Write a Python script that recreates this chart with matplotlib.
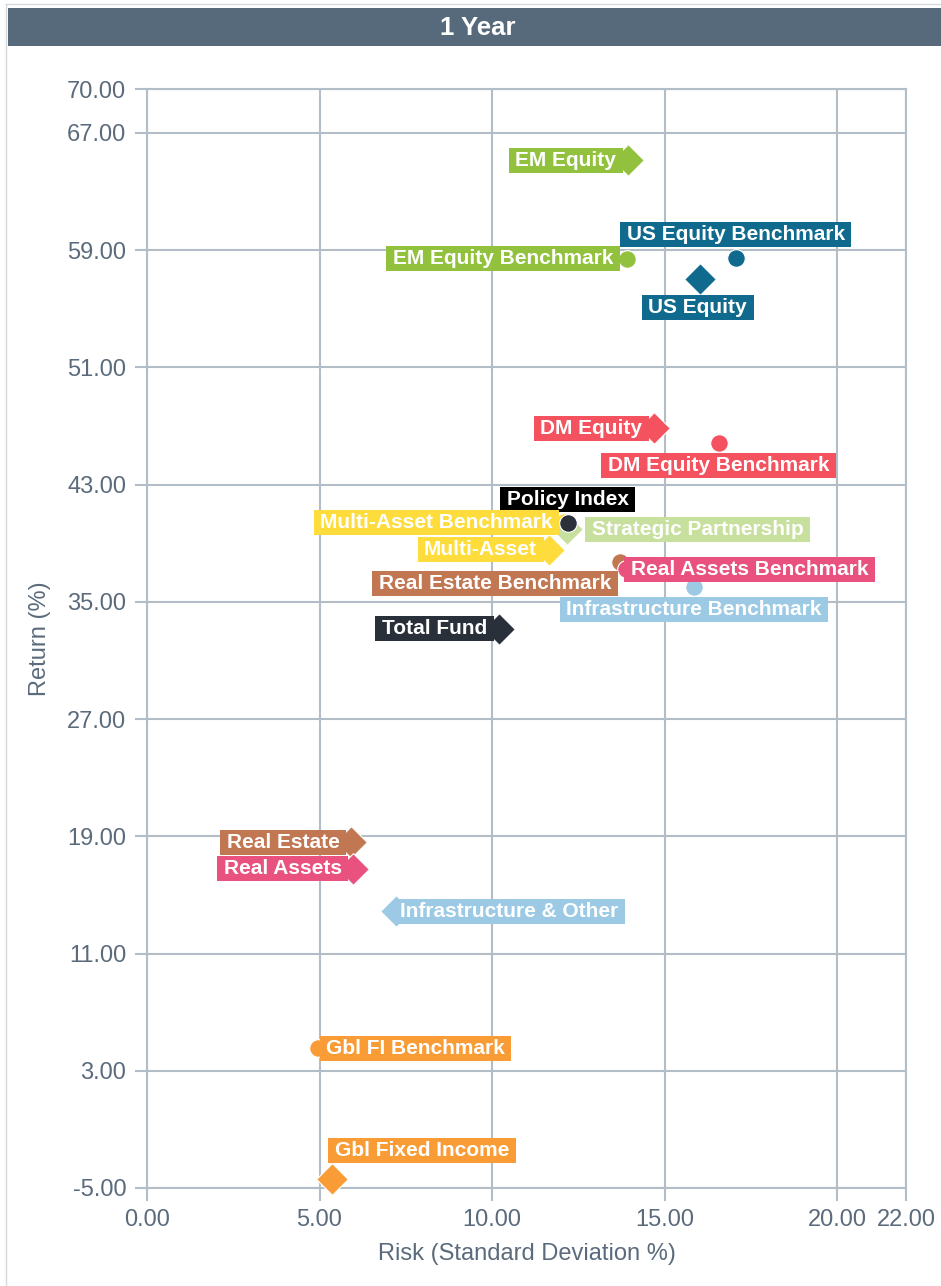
import matplotlib
matplotlib.use('Agg')
import matplotlib.pyplot as plt
from matplotlib.path import Path
from matplotlib.patches import Rectangle
from matplotlib.lines import Line2D

plt.rcParams['font.family'] = ['Liberation Sans', 'DejaVu Sans']

# Data, in draw order
names = [
    "Total Fund", "Policy Index",
    "Gbl Fixed Income", "Gbl FI Benchmark",
    "US Equity", "US Equity Benchmark",
    "DM Equity", "DM Equity Benchmark",
    "EM Equity", "EM Equity Benchmark",
    "Multi-Asset", "Multi-Asset Benchmark",
    "Strategic Partnership",
    "Real Estate", "Real Estate Benchmark",
    "Real Assets", "Real Assets Benchmark",
    "Infrastructure & Other", "Infrastructure Benchmark",
]
risk = [10.19, 12.19, 5.37, 4.96, 16.02, 17.07, 14.69, 16.57, 13.93, 13.90,
        11.64, 12.10, 12.16, 5.92, 13.70, 5.98, 13.88, 7.23, 15.85]
returns = [33.15, 40.38, -4.39, 4.55, 57.03, 58.49, 46.86, 45.84, 65.15, 58.40,
           38.54, 40.42, 39.97, 18.61, 37.72, 16.77, 37.24, 13.90, 36.01]
is_benchmark = [False, True, False, True, False, True, False, True, False, True,
                False, True, False, False, True, False, True, False, True]

x_ticks = [0, 5, 10, 15, 20, 22]
y_ticks = [-5, 3, 11, 19, 27, 35, 43, 51, 59, 67, 70]

# Styles
COLORS = {
    "Total Fund": "#29303a", "Policy Index": "#2b3039",
    "Gbl Fixed Income": "#f99c35", "Gbl FI Benchmark": "#f99c35",
    "US Equity": "#0f6a8d", "US Equity Benchmark": "#0f6a8d",
    "DM Equity": "#f4525f", "DM Equity Benchmark": "#f4525f",
    "EM Equity": "#92c13e", "EM Equity Benchmark": "#92c13e",
    "Multi-Asset": "#fddc3b", "Multi-Asset Benchmark": "#fddc3b",
    "Strategic Partnership": "#c8e09d",
    "Real Estate": "#c27753", "Real Estate Benchmark": "#c27753",
    "Real Assets": "#e9527f", "Real Assets Benchmark": "#e9527f",
    "Infrastructure & Other": "#9ccae5", "Infrastructure Benchmark": "#9ccae5",
}
BOX_COLORS = dict(COLORS)
BOX_COLORS["Policy Index"] = "#000000"

# label offset in pixels from the marker centre: (dx, dy, ha, va)
LEFT = (-11.5, 0, 'right', 'center')
LABEL_POS = {
    "Total Fund": LEFT,
    "Policy Index": (0, 14, 'center', 'bottom'),
    "Gbl Fixed Income": (2.5, 19, 'left', 'bottom'),
    "Gbl FI Benchmark": (8, 0, 'left', 'center'),
    "US Equity": (-2, -19, 'center', 'top'),
    "US Equity Benchmark": (0, 14, 'center', 'bottom'),
    "DM Equity": LEFT,
    "DM Equity Benchmark": (0, -13, 'center', 'top'),
    "EM Equity": LEFT,
    "EM Equity Benchmark": (-13.5, 0, 'right', 'center'),
    "Multi-Asset": LEFT,
    "Multi-Asset Benchmark": LEFT,
    "Strategic Partnership": (25, 0, 'left', 'center'),
    "Real Estate": LEFT,
    "Real Estate Benchmark": (-8.5, -12, 'right', 'top'),
    "Real Assets": LEFT,
    "Real Assets Benchmark": (5, 0, 'left', 'center'),
    "Infrastructure & Other": (4, 0, 'left', 'center'),
    "Infrastructure Benchmark": (0, -13, 'center', 'top'),
}

AXIS_TXT = '#5b6b7c'
GRID = '#b3bdc8'
W, H = 941, 1286


def tag_box(x0, y0, width, height, mutation_size):
    # plain rectangle, wider padding left/right than top/bottom
    px, py = 6.5, 3
    l, r = x0 - px, x0 + width + px
    b, t = y0 - py, y0 + height + py
    return Path([(l, b), (r, b), (r, t), (l, t), (l, b)], closed=True)


fig = plt.figure(figsize=(W / 100, H / 100), dpi=100)
fig.patch.set_facecolor('white')

# outer frame + title bar
fig.add_artist(Line2D([6 / W, 6 / W], [0, 1 - 4 / H], color='#d4d9de', lw=1))
fig.add_artist(Line2D([6 / W, 1], [1 - 4 / H, 1 - 4 / H], color='#d4d9de', lw=1))
fig.add_artist(Rectangle((8 / W, 1 - 46 / H), (W - 8) / W, 38 / H,
                         transform=fig.transFigure, color='#566a7b', lw=0))
fig.text((8 + W) / 2 / W + 3 / W, 1 - 28 / H, "1 Year", color='white', fontsize=18.5,
         fontweight='bold', ha='center', va='center')

ax = fig.add_axes([147 / W, 1 - 1188 / H, (906 - 147) / W, (1188 - 89) / H])
ax.set_xlim(0, 22)
ax.set_ylim(-5, 70)
ax.set_xticks(x_ticks)
ax.set_yticks(y_ticks)
ax.set_xticklabels([f"{v:.2f}" for v in x_ticks])
ax.set_yticklabels([f"{v:.2f}" for v in y_ticks])
ax.grid(True, color=GRID, lw=1.5, zorder=0)
ax.set_axisbelow(True)
for s in ax.spines.values():
    s.set_color(GRID)
    s.set_linewidth(1.5)
ax.tick_params(colors=GRID, labelcolor=AXIS_TXT, labelsize=17, length=9, width=1.5)
ax.tick_params(axis='y', pad=6)
ax.tick_params(axis='x', pad=6)
ax.set_xlabel("Risk (Standard Deviation %)", fontsize=17, color=AXIS_TXT)
ax.set_ylabel("Return (%)", fontsize=17, color=AXIS_TXT)
ax.xaxis.set_label_coords(0.5, -0.05)
ax.yaxis.set_label_coords(-0.126, 0.5)

for i, name in enumerate(names):
    c = COLORS[name]
    if is_benchmark[i]:
        marker, size = 'o', 160
    else:
        marker, size = 'D', 260
    z = 3 + i * 0.01
    if name == "Policy Index":
        z = 6
    ax.scatter(risk[i], returns[i], s=size, marker=marker, color=c,
               edgecolors='white', linewidths=0.8, zorder=z, clip_on=False)
    dx, dy, ha, va = LABEL_POS[name]
    ax.annotate(name, xy=(risk[i], returns[i]), xytext=(dx, dy),
                textcoords='offset pixels', ha=ha, va=va, color='white',
                fontsize=15, fontweight='bold', zorder=4 + i * 0.01,
                bbox=dict(boxstyle=tag_box, fc=BOX_COLORS[name], ec='none'))

fig.savefig('out.png', dpi=100, facecolor='white')
